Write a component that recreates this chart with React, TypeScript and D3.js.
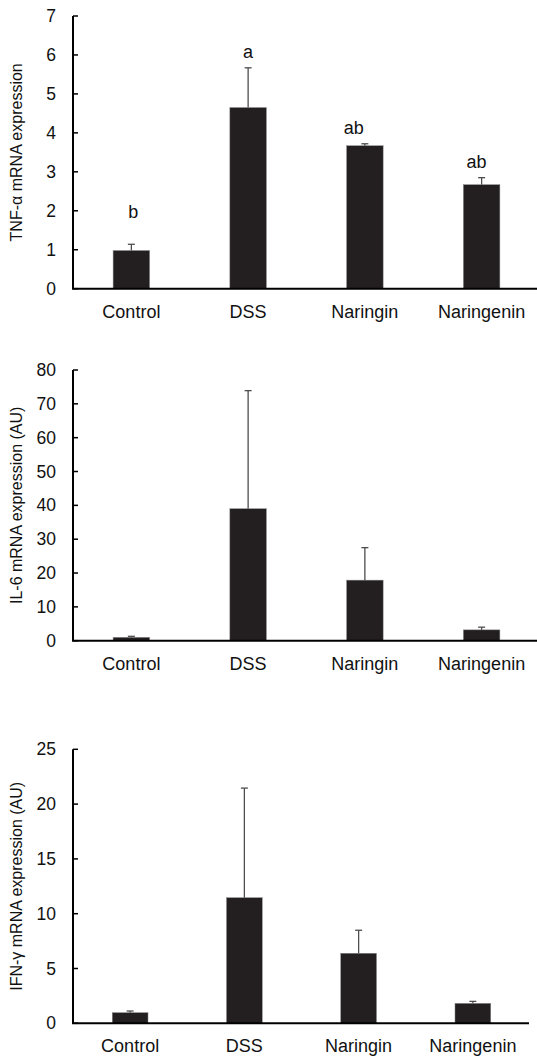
import React from "react";
import * as d3 from "d3";

const categories = ["Control", "DSS", "Naringin", "Naringenin"];

const tnfMean = [0.98, 4.65, 3.67, 2.67];
const tnfErr = [0.16, 1.02, 0.05, 0.18];
const tnfLetters = ["b", "a", "ab", "ab"];
const tnfTicks = [0, 1, 2, 3, 4, 5, 6, 7];

const il6Mean = [1.0, 39.0, 17.9, 3.2];
const il6Err = [0.3, 34.9, 9.6, 0.8];
const il6Ticks = [0, 10, 20, 30, 40, 50, 60, 70, 80];

const ifnMean = [0.97, 11.46, 6.39, 1.82];
const ifnErr = [0.15, 10.0, 2.1, 0.18];
const ifnTicks = [0, 5, 10, 15, 20, 25];

const FONT = "'Liberation Sans', Arial, Helvetica, sans-serif";
const BAR = "#231f20";
const ERR = "#4d4d4d";

type PanelProps = {
  top: number;
  bottom: number;
  right: number;
  axisEnd: number;
  mean: number[];
  err: number[];
  ticks: number[];
  title: string;
  letters?: string[];
};

function Panel({ top, bottom, right, axisEnd, mean, err, ticks, title, letters }: PanelProps) {
  const left = 73;
  const x = d3
    .scaleBand<string>()
    .domain(categories)
    .range([left, right])
    .paddingInner(0.687)
    .paddingOuter(0.3435);
  const y = d3
    .scaleLinear()
    .domain([0, ticks[ticks.length - 1]])
    .range([bottom, top]);
  const bw = x.bandwidth();
  const letterDx = [2, 0, -11, -5];
  const letterGap = [26, 10, 10, 10];
  return (
    <g>
      {categories.map((c, i) => {
        const x0 = x(c)!;
        const cx = x0 + bw / 2;
        const yTop = y(mean[i] + err[i]);
        return (
          <g key={c}>
            <rect x={x0} y={y(mean[i])} width={bw} height={bottom - y(mean[i])} fill={BAR} stroke="#8a8a8a" strokeWidth={0.5} />
            <line x1={cx} x2={cx} y1={y(mean[i])} y2={yTop} stroke={ERR} strokeWidth={1.3} />
            <line x1={cx - 3.5} x2={cx + 3.5} y1={yTop} y2={yTop} stroke={ERR} strokeWidth={1.3} />
            {letters && (
              <text
                x={cx + letterDx[i]}
                y={yTop - letterGap[i]}
                textAnchor="middle"
                fontSize={18}
                fontFamily={FONT}
                fill="#111"
              >
                {letters[i]}
              </text>
            )}
            <text
              x={cx}
              y={bottom + 29}
              textAnchor="middle"
              fontSize={18}
              fontFamily={FONT}
              fill="#111"
            >
              {c}
            </text>
          </g>
        );
      })}
      <line x1={left} x2={left} y1={top} y2={bottom} stroke="#000" strokeWidth={2} />
      <line x1={left - 1} x2={axisEnd} y1={bottom} y2={bottom} stroke="#000" strokeWidth={2} />
      {ticks.map((t) => (
        <g key={t}>
          <line x1={left} x2={left + 5} y1={y(t)} y2={y(t)} stroke="#000" strokeWidth={1.5} />
          <text
            x={left - 17}
            y={y(t)}
            dy="0.35em"
            textAnchor="end"
            fontSize={17.5}
            fontFamily={FONT}
            fill="#111"
          >
            {t}
          </text>
        </g>
      ))}
      <text
        transform={`translate(22,${(top + bottom) / 2}) rotate(-90)`}
        textAnchor="middle"
        fontSize={16}
        fontFamily={FONT}
        fill="#111"
      >
        {title}
      </text>
    </g>
  );
}

export default function App() {
  return (
    <svg
      width={537}
      height={1059}
      style={{ position: "absolute", left: 0, top: 0, background: "#fff" }}
    >
      <rect width={537} height={1059} fill="#fff" />
      <Panel
        top={16}
        bottom={288.7}
        right={540}
        axisEnd={537}
        mean={tnfMean}
        err={tnfErr}
        ticks={tnfTicks}
        title="TNF-α mRNA expression"
        letters={tnfLetters}
      />
      <Panel
        top={370}
        bottom={640.7}
        right={540}
        axisEnd={537}
        mean={il6Mean}
        err={il6Err}
        ticks={il6Ticks}
        title="IL-6 mRNA expression (AU)"
      />
      <Panel
        top={749.3}
        bottom={1023.3}
        right={530}
        axisEnd={529}
        mean={ifnMean}
        err={ifnErr}
        ticks={ifnTicks}
        title="IFN-γ mRNA expression (AU)"
      />
    </svg>
  );
}
